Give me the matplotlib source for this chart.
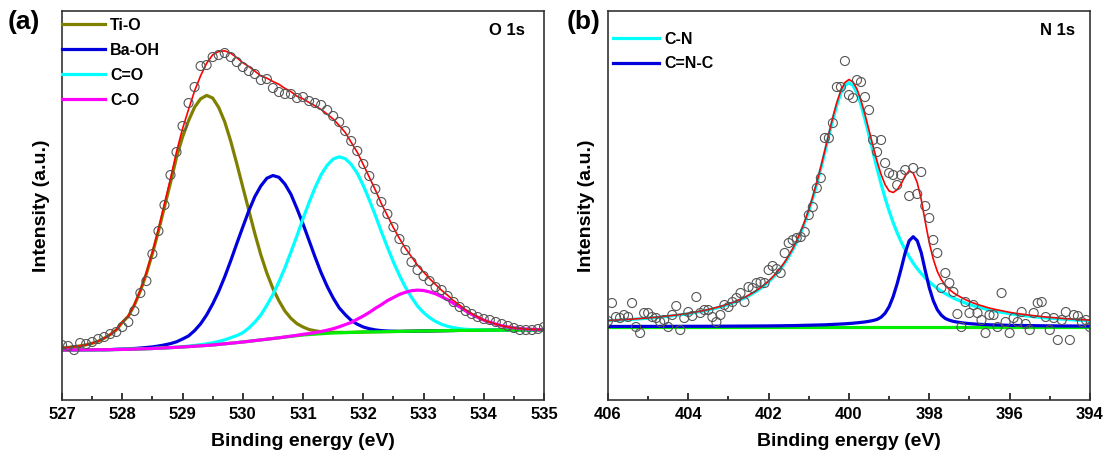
import numpy as np
import matplotlib.pyplot as plt
from matplotlib.ticker import MultipleLocator

plt.rcParams['font.family'] = ['Liberation Sans', 'DejaVu Sans']
plt.rcParams['font.weight'] = 'bold'
plt.rcParams['axes.labelweight'] = 'bold'

# ---------------- (a) O 1s ----------------
# binding energy grid, 0.1 eV steps
be_o = np.linspace(527.0, 535.0, 81)

# measured points
o_data = [55, 54, 50, 57, 56, 58, 61, 63, 66, 68,
          73, 78, 89, 107, 119, 146, 169, 195, 225, 248,
          274, 297, 313, 334, 335, 343, 345, 347, 343, 338,
          333, 329, 326, 320, 321, 312, 308, 306, 306, 302,
          303, 299, 297, 295, 290, 284, 278, 269, 259, 249,
          236, 224, 211, 198, 186, 173, 161, 150, 138, 130,
          124, 119, 113, 110, 104, 98, 93, 89, 86, 83,
          81, 80, 78, 76, 74, 72, 70, 70, 70, 71,
          73]

# background (Shirley)
o_bg = [50.0, 50.0, 50.1, 50.1, 50.2, 50.2, 50.3, 50.3, 50.4, 50.5,
        50.6, 50.7, 50.9, 51.1, 51.3, 51.5, 51.8, 52.1, 52.4, 52.7,
        53.0, 53.4, 53.8, 54.2, 54.6, 55.0, 55.6, 56.2, 56.8, 57.4,
        58.0, 58.7, 59.4, 60.1, 60.8, 61.5, 62.2, 62.9, 63.6, 64.3,
        65.0, 65.5, 65.9, 66.3, 66.7, 67.0, 67.2, 67.4, 67.6, 67.8,
        68.0, 68.1, 68.2, 68.3, 68.4, 68.5, 68.6, 68.7, 68.8, 68.9,
        69.0, 69.1, 69.2, 69.3, 69.4, 69.5, 69.6, 69.6, 69.7, 69.7,
        69.8, 69.8, 69.9, 69.9, 70.0, 70.0, 70.0, 70.0, 70.0, 70.0,
        70.0]

# fitted components (height above background)
o_tio = [2, 2.6, 3.2, 4, 5, 6.5, 8.5, 11.5, 15, 19.5,
         27, 33, 44, 58, 75, 95, 117, 141, 165, 190,
         210, 226, 239, 247, 250, 247, 237, 222, 202, 179,
         155, 131, 107, 85, 66, 50, 37, 26, 18, 12,
         8, 5, 3.3, 2, 1.2, 0.7, 0.4, 0.2, 0, 0,
         0, 0, 0, 0, 0, 0, 0, 0, 0, 0,
         0, 0, 0, 0, 0, 0, 0, 0, 0, 0,
         0, 0, 0, 0, 0, 0, 0, 0, 0, 0,
         0]

o_baoh = [0, 0, 0, 0, 0, 0, 0, 0, 0, 0.2,
          0.3, 0.4, 0.6, 0.9, 1.2, 1.6, 2.2, 3, 4, 5.5,
          8, 10.7, 15.6, 22, 30.5, 41, 53, 67, 82.5, 99,
          115, 130.5, 144, 154, 161, 163, 160.5, 153, 142, 127,
          111, 94, 77, 61, 47, 35, 25, 18, 12, 8,
          5, 3.2, 1.9, 1.1, 0.6, 0.3, 0, 0, 0, 0,
          0, 0, 0, 0, 0, 0, 0, 0, 0, 0,
          0, 0, 0, 0, 0, 0, 0, 0, 0, 0,
          0]

o_cdo = [0, 0, 0, 0, 0, 0, 0, 0, 0, 0,
         0, 0, 0, 0, 0, 0, 0, 0, 0, 0,
         0.3, 0.5, 0.8, 1.1, 1.6, 2.2, 3, 4, 5.5, 7,
         9.3, 13.3, 18.5, 25, 34, 44, 56, 69.5, 84.5, 100,
         116.5, 132, 146.5, 159, 168, 174, 176, 174, 168, 159,
         146.5, 132, 116.5, 100, 84.5, 69.5, 56, 44, 34, 25,
         18.5, 13.3, 9.3, 6.4, 4.3, 2.8, 1.8, 1.1, 0.7, 0.4,
         0.2, 0, 0, 0, 0, 0, 0, 0, 0, 0,
         0]

o_coo = [0, 0, 0, 0, 0, 0, 0, 0, 0, 0,
         0, 0, 0, 0, 0, 0, 0, 0, 0, 0,
         0, 0, 0, 0, 0, 0, 0, 0, 0, 0,
         0, 0, 0, 0, 0, 0, 0, 0.2, 0.3, 0.4,
         0.7, 1.0, 1.5, 2.2, 3.1, 4.3, 6, 8, 10, 13,
         16, 19.5, 23.5, 27, 31, 34, 37, 39, 40.5, 41,
         40.5, 39, 37, 34, 31, 27, 23.5, 19.5, 16, 13,
         10, 8, 6, 4.3, 3.1, 2.2, 1.5, 1.0, 0.7, 0.4,
         0.3]

# ---------------- (b) N 1s ----------------
be_n = np.linspace(406.0, 394.0, 121)

n_data = [79, 97, 83, 82, 85, 83, 97, 73, 67, 87,
          87, 83, 82, 78, 80, 73, 85, 94, 70, 82,
          88, 84, 103, 87, 90, 90, 83, 78, 85, 95,
          93, 98, 102, 107, 98, 113, 112, 117, 118, 117,
          130, 134, 131, 127, 147, 157, 160, 162, 163, 168,
          185, 193, 212, 222, 262, 262, 277, 313, 313, 339,
          305, 302, 320, 318, 303, 290, 260, 248, 260, 237,
          227, 225, 215, 225, 230, 204, 232, 206, 228, 194,
          182, 160, 147, 112, 127, 117, 108, 86, 73, 98,
          87, 95, 87, 80, 67, 85, 85, 73, 107, 78,
          67, 82, 78, 88, 76, 70, 87, 97, 98, 83,
          70, 82, 60, 80, 88, 60, 85, 84, 78, 80,
          73]

n_base = 73.3  # flat background level

n_cn = [6.0, 6.2, 6.4, 6.6, 6.8, 7.1, 7.3, 7.6, 7.9, 8.2,
        8.5, 8.8, 9.2, 9.6, 10.0, 10.4, 10.9, 11.4, 11.9, 12.4,
        13.0, 13.7, 14.4, 15.1, 15.9, 16.7, 17.7, 18.7, 19.8, 20.9,
        22.2, 23.6, 25.2, 26.9, 28.7, 30.8, 33.1, 35.6, 38.3, 41.5,
        44.9, 48.8, 53.2, 58.1, 63.6, 69.9, 76.9, 84.9, 94.0, 104.2,
        115.7, 128.6, 142.8, 158.1, 174.4, 191.1, 207.3, 221.9, 233.7, 241.3,
        244.0,
        241.3, 233.7, 221.9, 207.3, 191.1, 174.4, 158.1, 142.8, 128.6, 115.7,
        104.2, 94.0, 84.9, 76.9, 69.9, 63.6, 58.1, 53.2, 48.8, 44.9,
        41.5, 38.3, 35.6, 33.1, 30.8, 28.7, 26.9, 25.2, 23.6, 22.2,
        20.9, 19.8, 18.7, 17.7, 16.7, 15.9, 15.1, 14.4, 13.7, 13.0,
        12.4, 11.9, 11.4, 10.9, 10.4, 10.0, 9.6, 9.2, 8.8, 8.5,
        8.2, 7.9, 7.6, 7.3, 7.1, 6.8, 6.6, 6.4, 6.2, 6.0]

n_cnc = [0.25, 0.25, 0.26, 0.26, 0.27, 0.27, 0.28, 0.28, 0.29, 0.3,
         0.3, 0.31, 0.32, 0.33, 0.34, 0.35,
         0.36, 0.37, 0.38, 0.39, 0.4, 0.41, 0.42, 0.43, 0.44, 0.46,
         0.48, 0.5, 0.52, 0.54, 0.56, 0.58, 0.6, 0.62, 0.64, 0.67,
         0.7, 0.72, 0.75, 0.78, 0.8, 0.85, 0.9, 0.95, 1.0, 1.05,
         1.1, 1.2, 1.3, 1.4, 1.5, 1.6, 1.7, 1.8, 1.9, 2.1,
         2.3, 2.5, 2.7, 2.9, 3.2, 3.5, 3.9, 4.3, 4.8, 5.4,
         6.2, 7.3, 9.5, 13.5, 20, 30, 43, 58, 74, 86,
         90,
         86, 74, 56, 39, 26, 17, 11.5, 8.2, 6.5, 5.3,
         4.6, 4.0, 3.5, 3.1, 2.8, 2.5, 2.3, 2.1, 1.9, 1.8,
         1.7, 1.6, 1.5, 1.4, 1.3, 1.25, 1.2, 1.15, 1.1, 1.05,
         1.0, 0.95, 0.9, 0.87, 0.84, 0.8, 0.77, 0.74, 0.72, 0.7,
         0.67, 0.64, 0.62, 0.6]

fig = plt.figure(figsize=(11.08, 4.61), dpi=100)
ax1 = fig.add_axes([0.0560, 0.1323, 0.4350, 0.8438])
ax2 = fig.add_axes([0.5487, 0.1323, 0.4350, 0.8438])

lw = 2.3
bg_o = np.array(o_bg)
ax1.plot(be_o, bg_o + o_tio, color='#808000', lw=lw, label='Ti-O')
ax1.plot(be_o, bg_o + o_baoh, color='#0000dd', lw=lw, label='Ba-OH')
ax1.plot(be_o, bg_o + o_cdo, color='#00ffff', lw=lw, label='C=O')
ax1.plot(be_o, bg_o, color='#00ee00', lw=lw)
ax1.plot(be_o, bg_o + o_coo, color='#ff00ff', lw=lw, label='C-O')
env_o = bg_o + np.array(o_tio) + o_baoh + o_cdo + o_coo
ax1.plot(be_o, env_o, color='red', lw=1.2)
ax1.scatter(be_o, o_data, s=42, facecolors='none', edgecolors='#555555',
            linewidths=0.8, zorder=5)

ax2.plot([406, 394], [n_base, n_base], color='#00ee00', lw=lw)
ax2.plot(be_n, n_base + np.array(n_cn), color='#00ffff', lw=lw, label='C-N')
ax2.plot(be_n, n_base + np.array(n_cnc), color='#0000dd', lw=lw, label='C=N-C')
env_n = n_base + np.array(n_cn) + n_cnc
ax2.plot(be_n, env_n, color='red', lw=1.2)
ax2.scatter(be_n, n_data, s=42, facecolors='none', edgecolors='#555555',
            linewidths=0.8, zorder=5)

ax1.set_xlim(527, 535)
ax2.set_xlim(406, 394)
ax1.xaxis.set_major_locator(MultipleLocator(1))
ax1.xaxis.set_minor_locator(MultipleLocator(0.5))
ax2.xaxis.set_major_locator(MultipleLocator(2))
ax2.xaxis.set_minor_locator(MultipleLocator(1))

for ax in (ax1, ax2):
    ax.set_ylim(0, 389)
    ax.set_yticks([])
    ax.tick_params(axis='x', which='major', direction='in', length=5,
                   width=1.1, labelsize=12, pad=5)
    ax.tick_params(axis='x', which='minor', direction='in', length=3, width=1.1)
    for s in ax.spines.values():
        s.set_linewidth(1.2)
        s.set_color('#333333')
    ax.set_xlabel('Binding energy (eV)', fontsize=14, labelpad=8)
    ax.set_ylabel('Intensity (a.u.)', fontsize=14, labelpad=9)

ax1.legend(loc='upper left', bbox_to_anchor=(0, 0.982), frameon=False,
           fontsize=11.5, handlelength=2.7, handletextpad=0.3,
           labelspacing=0.62, borderpad=0, borderaxespad=0)
ax2.legend(loc='upper left', bbox_to_anchor=(0.01, 0.947), frameon=False,
           fontsize=11.5, handlelength=2.9, handletextpad=0.3,
           labelspacing=0.6, borderpad=0, borderaxespad=0)

ax1.text(0.96, 0.95, 'O 1s', transform=ax1.transAxes, ha='right', va='center',
         fontsize=12)
ax2.text(0.969, 0.95, 'N 1s', transform=ax2.transAxes, ha='right', va='center',
         fontsize=12)
fig.text(0.007, 0.952, '(a)', fontsize=19, va='center', ha='left')
fig.text(0.511, 0.952, '(b)', fontsize=19, va='center', ha='left')

fig.savefig('out.png', dpi=100)
